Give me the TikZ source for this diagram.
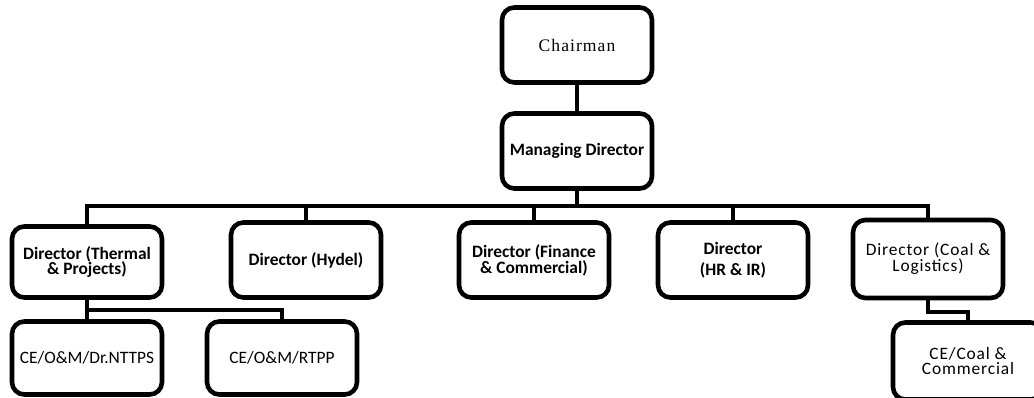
\documentclass[tikz,border=0pt]{standalone}
\usepackage{fontspec}
\setmainfont{Carlito}
\newfontfamily\chairfont{Liberation Serif}

\begin{document}
\begin{tikzpicture}[x=0.02cm,y=-0.02cm,
      orgbox/.style={draw,line width=2.6pt,rounded corners=7pt,fill=white,align=center,
        minimum width=3cm,minimum height=1.5cm,inner sep=2pt,
        font=\bfseries\fontsize{9.9}{9}\selectfont},
      thinbox/.style={orgbox,font=\fontsize{9.9}{9}\selectfont},
      link/.style={line width=2.3pt}]
    \clip (0,0) rectangle (1034,398);
    \node[orgbox,font=\chairfont\fontsize{10}{12}\selectfont\addfontfeature{LetterSpace=6}] (chair) at (577,45) {Chairman};
    \node[orgbox] (md) at (577,151) {Managing Director};
    \node[orgbox,minimum height=1.42cm] (thermal) at (87,262) {Director (Thermal\\ \& Projects)};
    \node[orgbox] (hydel) at (306,260) {Director (Hydel)};
    \node[orgbox] (finance) at (534,260) {Director (Finance\\ \& Commercial)};
    \node[orgbox] (hr) at (733,260) {Director\\[3pt] (HR \& IR)};
    \node[thinbox,minimum height=1.56cm,font=\fontsize{9.9}{9}\selectfont\addfontfeature{LetterSpace=5}] (coal) at (928,259) {Director (Coal \&\\ Logistics)};
    \node[thinbox,minimum height=1.46cm] (nttps) at (87,358) {CE/O\&M/Dr.NTTPS};
    \node[thinbox,minimum height=1.46cm] (rtpp) at (282,358) {CE/O\&M/RTPP};
    \node[thinbox,minimum height=1.54cm,font=\fontsize{9.9}{9}\selectfont\addfontfeature{LetterSpace=5}] (cecoal) at (968,361) {CE/Coal \&\\ Commercial};
    \coordinate (bus) at (577,206);
    \coordinate (tjoin) at (87,310);
    \coordinate (cjoin) at (928,312);
    % top of the tree
    \draw[link] (chair) -- (md);
    \draw[link] (md.south) |- (thermal.north |- bus) -- (thermal.north);
    \draw[link] (md.south) |- (hydel.north |- bus) -- (hydel.north);
    \draw[link] (md.south) |- (finance.north |- bus) -- (finance.north);
    \draw[link] (md.south) |- (hr.north |- bus) -- (hr.north);
    \draw[link] (md.south) |- (coal.north |- bus) -- (coal.north);
    % sub units
    \draw[link] (thermal.south) -- (nttps.north);
    \draw[link] (thermal.south) |- (rtpp.north |- tjoin) -- (rtpp.north);
    \draw[link] (coal.south) -- (cjoin) -| (cecoal.north);
\end{tikzpicture}
\end{document}
